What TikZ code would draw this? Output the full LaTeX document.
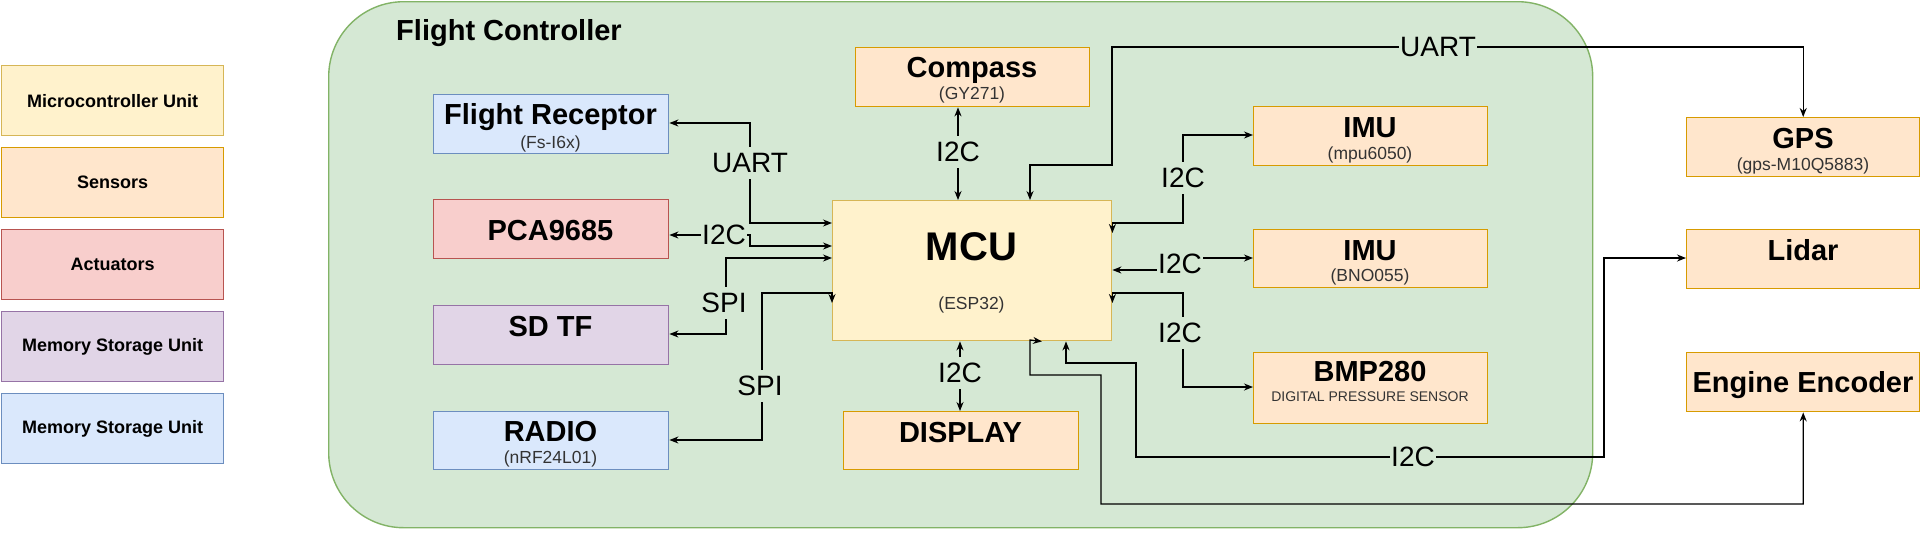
\documentclass[tikz,border=0pt]{standalone}
\usepackage{fontspec}
\setmainfont{Liberation Sans}
\usetikzlibrary{arrows.meta}
\definecolor{yfill}{HTML}{FFF2CC}\definecolor{ydraw}{HTML}{D6B656}
\definecolor{ofill}{HTML}{FFE6CC}\definecolor{odraw}{HTML}{D79B00}
\definecolor{rfill}{HTML}{F8CECC}\definecolor{rdraw}{HTML}{B85450}
\definecolor{pfill}{HTML}{E1D5E7}\definecolor{pdraw}{HTML}{9673A6}
\definecolor{bfill}{HTML}{DAE8FC}\definecolor{bdraw}{HTML}{6C8EBF}
\definecolor{gfill}{HTML}{D5E8D4}\definecolor{gdraw}{HTML}{82B366}
\definecolor{subc}{HTML}{333333}
\begin{document}
\begin{tikzpicture}[x=1pt,y=-1pt,
  blk/.style={draw, line width=1.4pt, inner sep=0pt, anchor=north west},
  ybox/.style={blk, fill=yfill, draw=ydraw},
  obox/.style={blk, fill=ofill, draw=odraw},
  rbox/.style={blk, fill=rfill, draw=rdraw},
  pbox/.style={blk, fill=pfill, draw=pdraw},
  bbox/.style={blk, fill=bfill, draw=bdraw},
  legtxt/.style={font=\fontsize{18}{22}\selectfont\bfseries},
  ttl/.style={anchor=base, inner sep=0pt, font=\fontsize{29}{34}\selectfont\bfseries},
  sub/.style={anchor=base, inner sep=0pt, text=subc, font=\fontsize{17.5}{21}\selectfont},
  lbl/.style={fill=gfill, inner xsep=1pt, inner ysep=6pt, font=\fontsize{28}{32}\selectfont},
  conn/.style={draw=black, line width=1.3pt, >={Stealth[length=9pt,width=7pt]}, <->}
]
\useasboundingbox (0,0) rectangle (1921,539);

% container
\node[blk, draw=gdraw, fill=gfill, rounded corners=75pt, minimum width=1264, minimum height=526] (fc) at (328,1) {};
\node[ttl] (fct) at (509,40.5) {Flight Controller};

% legend
\node[ybox, minimum width=222, minimum height=70, legtxt] (lg1) at (1,65) {Microcontroller Unit};
\node[obox, minimum width=222, minimum height=70, legtxt] (lg2) at (1,147) {Sensors};
\node[rbox, minimum width=222, minimum height=70, legtxt] (lg3) at (1,229) {Actuators};
\node[pbox, minimum width=222, minimum height=70, legtxt] (lg4) at (1,311) {Memory Storage Unit};
\node[bbox, minimum width=222, minimum height=70, legtxt] (lg5) at (1,393) {Memory Storage Unit};

% boxes
\node[bbox, minimum width=235, minimum height=59] (fr) at (433,94) {};
\node[rbox, minimum width=235, minimum height=59] (pca) at (433,199) {};
\node[pbox, minimum width=235, minimum height=59] (sd) at (433,305) {};
\node[bbox, minimum width=235, minimum height=58] (radio) at (433,411) {};
\node[obox, minimum width=234, minimum height=59] (compass) at (855,47) {};
\node[ybox, minimum width=279, minimum height=140] (mcu) at (832,200) {};
\node[obox, minimum width=235, minimum height=58] (disp) at (843,411) {};
\node[obox, minimum width=234, minimum height=59] (imu1) at (1253,106) {};
\node[obox, minimum width=234, minimum height=58] (imu2) at (1253,229) {};
\node[obox, minimum width=234, minimum height=71] (bmp) at (1253,352) {};
\node[obox, minimum width=233, minimum height=59] (gps) at (1686,117) {};
\node[obox, minimum width=233, minimum height=59] (lidar) at (1686,229) {};
\node[obox, minimum width=233, minimum height=59] (ee) at (1686,352) {};

% texts
\node[ttl] (frt) at (550.5,124) {Flight Receptor};
\node[sub] (frs) at (550.5,148) {(Fs-I6x)};
\node[ttl] (pcat) at (550.5,240) {PCA9685};
\node[ttl] (sdt) at (550.5,336) {SD TF};
\node[ttl] (radiot) at (550.5,441) {RADIO};
\node[sub] (radios) at (550.5,463.5) {(nRF24L01)};
\node[ttl] (compt) at (972,77) {Compass};
\node[sub] (comps) at (972,99.5) {(GY271)};
\node[anchor=base, inner sep=0pt, font=\fontsize{40}{46}\selectfont\bfseries] (mcut) at (971.5,260) {MCU};
\node[sub] (mcus) at (971.5,309) {(ESP32)};
\node[ttl] (dispt) at (960.5,442) {DISPLAY};
\node[ttl] (imu1t) at (1370,137) {IMU};
\node[sub] (imu1s) at (1370,159.5) {(mpu6050)};
\node[ttl] (imu2t) at (1370,260) {IMU};
\node[sub] (imu2s) at (1370,281.5) {(BNO055)};
\node[ttl] (bmpt) at (1370,381) {BMP280};
\node[sub, font=\fontsize{14}{17}\selectfont] (bmps) at (1370,401) {DIGITAL PRESSURE SENSOR};
\node[ttl] (gpst) at (1803,148) {GPS};
\node[sub] (gpss) at (1803,170.5) {(gps-M10Q5883)};
\node[ttl] (lidart) at (1803,260) {Lidar};
\node[ttl] (eet) at (1803,392) {Engine Encoder};

% connectors
\draw[conn] (fr.east |- 0,123) -- (750,123) -- (750,223) -- (mcu.west |- 0,223);
\draw[conn] (pca.east |- 0,235) -- (750,235) -- (750,246) -- (mcu.west |- 0,246);
\draw[conn] (sd.east |- 0,334) -- (726,334) -- (726,258) -- (mcu.west |- 0,258);
\draw[conn] (radio.east |- 0,440) -- (762,440) -- (762,293) -- (mcu.west |- 0,293) -- (mcu.west |- 0,303);
\draw[conn] (compass.south -| 958,0) -- (mcu.north -| 958,0);
\draw[conn] (mcu.south -| 960,0) -- (disp.north -| 960,0);
\draw[conn] (mcu.east |- 0,233) -- (mcu.east |- 0,223) -- (1183,223) -- (1183,135) -- (imu1.west |- 0,135);
\draw[conn] (mcu.east |- 0,270) -- (1180,270) -- (1180,258) -- (imu2.west |- 0,258);
\draw[conn] (mcu.east |- 0,303) -- (mcu.east |- 0,293) -- (1183,293) -- (1183,387) -- (bmp.west |- 0,387);
\draw[conn] (mcu.north -| 1030,0) -- (1030,165) -- (1112,165) -- (1112,47) -- (gps.north |- 0,47) -- (gps.north);
\draw[conn] (mcu.south -| 1066,0) -- (1066,363) -- (1136,363) -- (1136,457) -- (1604,457) -- (1604,258) -- (lidar.west |- 0,258);
\draw[conn] (mcu.south -| 1042,0) -- (1030,340) -- (1030,375) -- (1101,375) -- (1101,504) -- (ee.south |- 0,504) -- (ee.south);

% labels
\node[lbl] (l1) at (750,163) {UART};
\node[lbl] (l2) at (724,235) {I2C};
\node[lbl] (l3) at (724,303) {SPI};
\node[lbl] (l4) at (760,386) {SPI};
\node[lbl] (l5) at (958,152) {I2C};
\node[lbl] (l6) at (960,373) {I2C};
\node[lbl] (l7) at (1183,178) {I2C};
\node[lbl] (l8) at (1180,264) {I2C};
\node[lbl] (l9) at (1180,333) {I2C};
\node[lbl] (l10) at (1438,47) {UART};
\node[lbl] (l11) at (1413,457) {I2C};
\end{tikzpicture}
\end{document}
